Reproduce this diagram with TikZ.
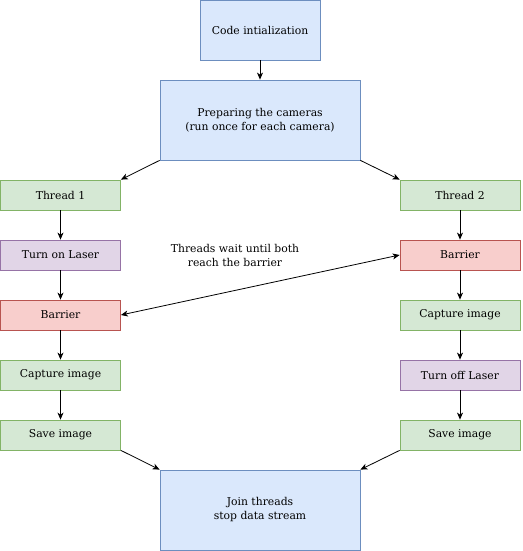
\documentclass[tikz,border=0pt]{standalone}
\usepackage{fontspec}
\setmainfont{DejaVu Serif}
\usetikzlibrary{arrows.meta}
\definecolor{bfill}{HTML}{DAE8FC}\definecolor{bdraw}{HTML}{6C8EBF}
\definecolor{gfill}{HTML}{D5E8D4}\definecolor{gdraw}{HTML}{82B366}
\definecolor{pfill}{HTML}{E1D5E7}\definecolor{pdraw}{HTML}{9673A6}
\definecolor{rfill}{HTML}{F8CECC}\definecolor{rdraw}{HTML}{B85450}
\tikzset{
  txt/.style={font=\fontsize{10.8}{14}\selectfont},
  box/.style={rectangle, line width=0.8pt, inner sep=0pt, align=center, txt},
  small/.style={box, minimum width=120pt, minimum height=30pt},
  big/.style={box, minimum width=200pt, minimum height=80pt},
  blue/.style={fill=bfill, draw=bdraw},
  green/.style={fill=gfill, draw=gdraw},
  purple/.style={fill=pfill, draw=pdraw},
  red/.style={fill=rfill, draw=rdraw},
  arr/.style={-{Stealth[length=7pt,width=6pt,inset=2pt]}, line width=0.8pt},
}
\begin{document}
\begin{tikzpicture}[x=1pt,y=-1pt]
\useasboundingbox (0,0) rectangle (522,551);
\node[box, blue, minimum width=120pt, minimum height=60pt] (init) at (260,30) {Code intialization};
\node[big, blue] (prep) at (260,120) {Preparing the cameras\\(run once for each camera)};
\node[small, green] (t1) at (60.5,195) {Thread 1};
\node[small, purple] (on) at (60.5,255) {Turn on Laser};
\node[small, red] (b1) at (60.5,315) {Barrier};
\node[small, green] (c1) at (60.5,375) {Capture image};
\node[small, green] (s1) at (60.5,435) {Save image};
\node[small, green] (t2) at (460,195) {Thread 2};
\node[small, red] (b2) at (460,255) {Barrier};
\node[small, green] (c2) at (460,315) {Capture image};
\node[small, purple] (off) at (460,375) {Turn off Laser};
\node[small, green] (s2) at (460,435) {Save image};
\node[big, blue] (join) at (260,510) {Join threads\\stop data stream};
\node[align=center, txt] (note) at (235,255) {Threads wait until both\\reach the barrier};
\draw[arr] (init) -- (prep);
\draw[arr] (prep.south west) -- (t1.north east);
\draw[arr] (prep.south east) -- (t2.north west);
\draw[arr] (t1) -- (on);
\draw[arr] (on) -- (b1);
\draw[arr] (b1) -- (c1);
\draw[arr] (c1) -- (s1);
\draw[arr] (t2) -- (b2);
\draw[arr] (b2) -- (c2);
\draw[arr] (c2) -- (off);
\draw[arr] (off) -- (s2);
\draw[arr] (s1.south east) -- (join.north west);
\draw[arr] (s2.south west) -- (join.north east);
\draw[arr, {Stealth[length=7pt,width=6pt,inset=2pt]}-{Stealth[length=7pt,width=6pt,inset=2pt]}] (b1.east) -- (b2.west);
\end{tikzpicture}
\end{document}
